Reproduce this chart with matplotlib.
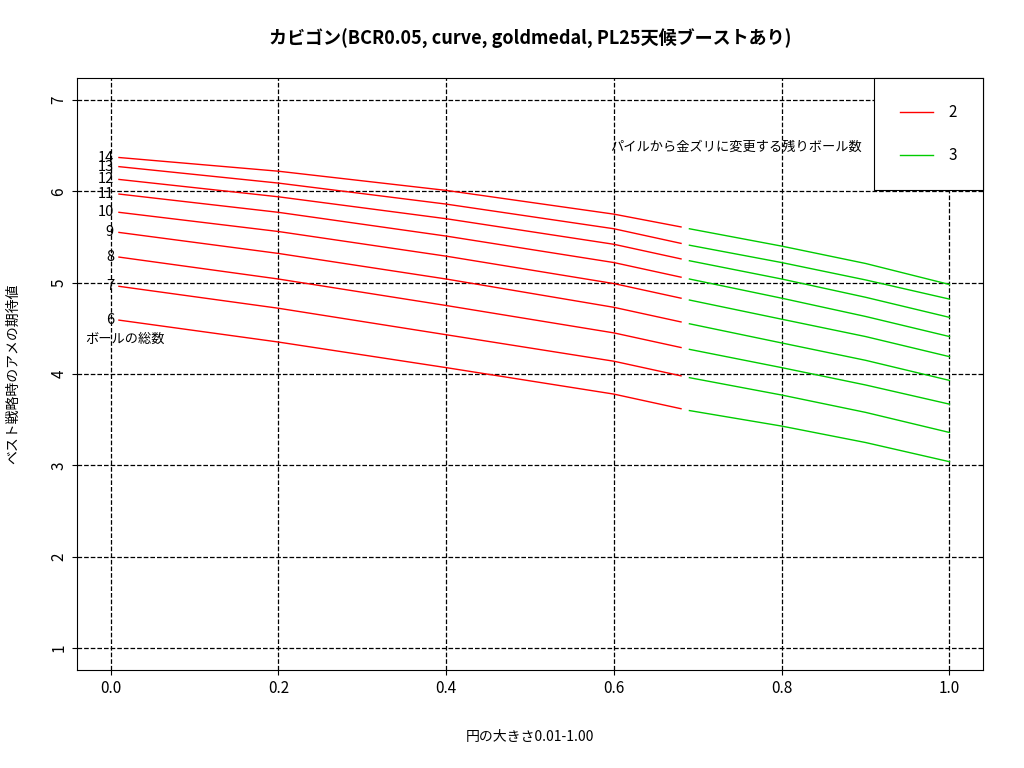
import matplotlib
matplotlib.use("Agg")
import matplotlib.pyplot as plt

plt.rcParams['font.family'] = ['Noto Sans CJK JP', 'DejaVu Sans']

balls = [6, 7, 8, 9, 10, 11, 12, 13, 14]
x_red = [0.01, 0.2, 0.4, 0.6, 0.68]
x_green = [0.69, 0.8, 0.9, 1.0]
red = {
    6: [4.59, 4.35, 4.07, 3.78, 3.62],
    7: [4.96, 4.72, 4.43, 4.14, 3.98],
    8: [5.28, 5.04, 4.75, 4.45, 4.29],
    9: [5.55, 5.32, 5.04, 4.73, 4.57],
    10: [5.77, 5.56, 5.29, 4.99, 4.83],
    11: [5.97, 5.77, 5.51, 5.22, 5.06],
    12: [6.13, 5.94, 5.70, 5.42, 5.26],
    13: [6.27, 6.09, 5.86, 5.59, 5.43],
    14: [6.37, 6.22, 6.01, 5.75, 5.61],
}
green = {
    6: [3.60, 3.43, 3.25, 3.04],
    7: [3.96, 3.77, 3.58, 3.36],
    8: [4.27, 4.07, 3.88, 3.67],
    9: [4.55, 4.34, 4.15, 3.93],
    10: [4.81, 4.60, 4.41, 4.19],
    11: [5.04, 4.83, 4.63, 4.41],
    12: [5.24, 5.04, 4.84, 4.62],
    13: [5.41, 5.22, 5.03, 4.82],
    14: [5.59, 5.40, 5.21, 4.98],
}

fig = plt.figure(figsize=(10.24, 7.68), dpi=100)
ax = fig.add_axes([0.0752, 0.1276, 0.8848, 0.7708])

for b in balls:
    ax.plot(x_red, red[b], color='red', lw=1)
    ax.plot(x_green, green[b], color='#00cc00', lw=1)
    ax.text(0.004, red[b][0], str(b), ha='right', va='center', fontsize=10.5)

ax.set_xlim(-0.04, 1.04)
ax.set_ylim(0.76, 7.24)
ax.set_xticks([0.0, 0.2, 0.4, 0.6, 0.8, 1.0])
ax.set_xticklabels(['0.0', '0.2', '0.4', '0.6', '0.8', '1.0'])
ax.set_yticks(range(1, 8))
ax.set_yticklabels([str(i) for i in range(1, 8)], rotation=90, va='center')
ax.grid(True, color='black', linestyle='--', lw=0.9)
ax.tick_params(labelsize=11)

ax.text(0.017, 4.38, 'ボールの総数', ha='center', va='center', fontsize=9.5)
ax.text(0.745, 6.48, 'パイルから金ズリに変更する残りボール数', ha='center', va='center', fontsize=9.5)

ax.plot([], [], color='red', lw=1, label='2')
ax.plot([], [], color='#00cc00', lw=1, label='3')
leg = ax.legend(loc='upper right', fontsize=11, fancybox=False, framealpha=1,
                edgecolor='black', borderpad=1.7, labelspacing=1.7, borderaxespad=0,
                handlelength=2.2, handletextpad=1.0)
leg.get_frame().set_linewidth(0.8)

ax.set_title('カビゴン(BCR0.05, curve, goldmedal, PL25天候ブーストあり)',
             fontsize=13, fontweight='bold', pad=24)
ax.set_xlabel('円の大きさ0.01-1.00', fontsize=10, labelpad=24)
ax.set_ylabel('ベスト戦略時のアメの期待値', fontsize=10, labelpad=22)

fig.savefig('out.png', dpi=100)
